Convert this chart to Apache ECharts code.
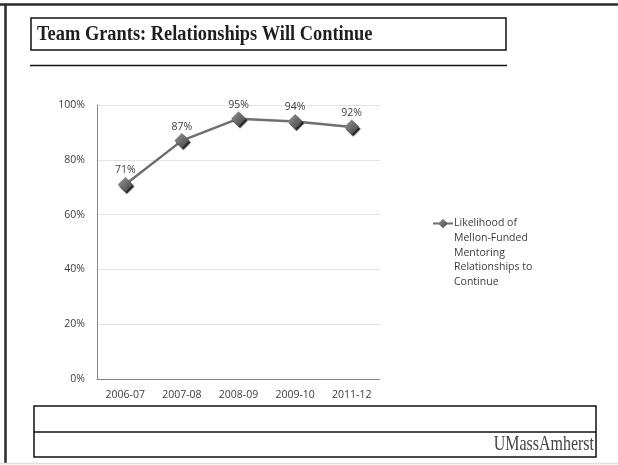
<!DOCTYPE html>
<html>
<head>
<meta charset="utf-8">
<script src="https://cdn.jsdelivr.net/npm/echarts@6/dist/echarts.min.js"></script>
<style>
html,body{margin:0;padding:0;background:#fff;}
#chart{width:618px;height:465px;}
</style>
</head>
<body>
<div id="chart"></div>
<script>
const titleText = 'Team Grants: Relationships Will Continue';
const footerText = 'UMassAmherst';
const categories = ['2006-07', '2007-08', '2008-09', '2009-10', '2011-12'];
const seriesName = 'Likelihood of Mellon-Funded Mentoring Relationships to Continue';
const legendLines = ['Likelihood of', 'Mellon-Funded', 'Mentoring', 'Relationships to', 'Continue'];
const values = [0.71, 0.87, 0.95, 0.94, 0.92];

const chart = echarts.init(document.getElementById('chart'));
const sansFont = '"Open Sans", "Noto Sans", sans-serif';
chart.setOption({
  backgroundColor: '#fff',
  animation: false,
  grid: { left: 97, top: 105, width: 283, height: 274 },
  xAxis: {
    type: 'category',
    data: categories,
    boundaryGap: true,
    axisLine: { lineStyle: { color: '#868686', width: 1 } },
    axisTick: { show: false },
    axisLabel: { color: '#3c3c3c', fontSize: 10.5, fontFamily: sansFont, margin: 11 }
  },
  yAxis: {
    type: 'value',
    min: 0, max: 1, interval: 0.2,
    axisLine: { show: true, lineStyle: { color: '#868686', width: 1 } },
    axisTick: { show: false },
    splitLine: { lineStyle: { color: '#e3e3e3', width: 1 } },
    axisLabel: { color: '#3c3c3c', fontSize: 10.5, fontFamily: sansFont, margin: 12,
      formatter: v => Math.round(v * 100) + '%' }
  },
  legend: {
    left: 432, top: 218,
    itemWidth: 20, itemHeight: 12,
    itemGap: 0, padding: 0,
    data: [{ name: seriesName }],
    formatter: () => legendLines[0],
    textStyle: { color: '#3c3c3c', fontSize: 10.5, fontFamily: sansFont, padding: [0, 0, 0, -4] }
  },
  series: [{
    name: seriesName,
    type: 'line',
    data: values,
    symbol: 'diamond',
    symbolSize: 15,
    lineStyle: { color: '#6f6f6f', width: 2.5 },
    itemStyle: {
      color: new echarts.graphic.LinearGradient(0, 0, 1, 1, [
        { offset: 0, color: '#9a9a9a' },
        { offset: 1, color: '#3e3e3e' }
      ]),
      shadowColor: 'rgba(0,0,0,0.85)', shadowBlur: 1, shadowOffsetX: 1.5, shadowOffsetY: 2
    },
    label: {
      show: true, position: 'top', distance: 1,
      color: '#3c3c3c', fontSize: 10.5, fontFamily: sansFont,
      formatter: p => Math.round(p.value * 100) + '%'
    }
  }],
  graphic: [
    { type: 'line', shape: { x1: 0, y1: 4.5, x2: 618, y2: 4.5 }, style: { stroke: '#2a2a2a', lineWidth: 2.5 } },
    { type: 'line', shape: { x1: 5.5, y1: 4, x2: 5.5, y2: 463 }, style: { stroke: '#2a2a2a', lineWidth: 2.5 } },
    { type: 'line', shape: { x1: 0, y1: 463.5, x2: 618, y2: 463.5 }, style: { stroke: '#e0e0e0', lineWidth: 1.5 } },
    { type: 'rect', shape: { x: 31, y: 18, width: 475, height: 32 }, style: { fill: 'none', stroke: '#111', lineWidth: 1.5 } },
    { type: 'line', shape: { x1: 30, y1: 65.5, x2: 507, y2: 65.5 }, style: { stroke: '#111', lineWidth: 1.5 } },
    { type: 'text', x: 37, y: 35, scaleX: 0.92, style: { text: titleText, fill: '#1e1e1e',
      font: 'bold 20px "Liberation Serif", serif', verticalAlign: 'middle' } },
    { type: 'text', x: 454, y: 231, style: { text: legendLines.slice(1).join('\n'), fill: '#3c3c3c',
      font: '10.5px "Open Sans", "Noto Sans", sans-serif', lineHeight: 14.5, verticalAlign: 'top' } },
    { type: 'rect', shape: { x: 34, y: 406, width: 562, height: 51 }, style: { fill: 'none', stroke: '#111', lineWidth: 1.5 } },
    { type: 'line', shape: { x1: 34, y1: 432, x2: 596, y2: 432 }, style: { stroke: '#111', lineWidth: 1.5 } },
    { type: 'text', x: 594, y: 444, scaleX: 0.76, style: { text: footerText, fill: '#444',
      font: '21px "Liberation Serif", serif', align: 'right', verticalAlign: 'middle' } }
  ]
});
</script>
</body>
</html>
